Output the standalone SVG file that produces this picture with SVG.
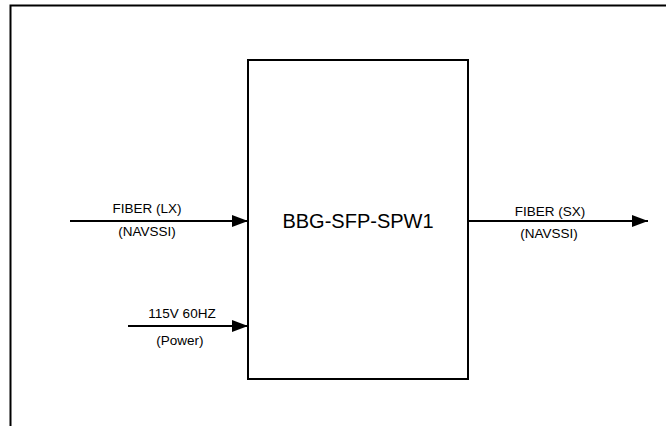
<svg xmlns="http://www.w3.org/2000/svg" width="666" height="426" viewBox="0 0 666 426">
<style>
.lbl{font-family:"Liberation Sans",Arial,sans-serif;font-size:13.5px;fill:#000;text-anchor:middle}
.big{font-family:"Liberation Sans",Arial,sans-serif;font-size:20px;fill:#000;text-anchor:middle}
.ln{stroke:#000;stroke-width:2;fill:none}
</style>
<defs>
<marker id="ah" markerUnits="userSpaceOnUse" markerWidth="16" markerHeight="12" refX="16" refY="6" orient="auto">
<path d="M0,0 L16,6 L0,12 Z" fill="#000"/>
</marker>
</defs>
<rect width="666" height="426" fill="#fff"/>
<g id="frame">
<path d="M10.5,426 V5.5 H666" class="ln"/>
</g>
<g id="device">
<rect x="248" y="60" width="220" height="319" fill="#fff" stroke="#000" stroke-width="2"/>
<text x="358" y="228" class="big">BBG-SFP-SPW1</text>
</g>
<g id="connectors">
<line x1="70" y1="221" x2="248" y2="221" class="ln" marker-end="url(#ah)"/>
<line x1="128" y1="326" x2="248" y2="326" class="ln" marker-end="url(#ah)"/>
<line x1="468" y1="221" x2="648" y2="221" class="ln" marker-end="url(#ah)"/>
</g>
<g id="labels">
<text x="147" y="213" class="lbl">FIBER (LX)</text>
<text x="147" y="236" class="lbl">(NAVSSI)</text>
<text x="182" y="318" class="lbl">115V 60HZ</text>
<text x="180" y="345" class="lbl">(Power)</text>
<text x="550" y="216" class="lbl">FIBER (SX)</text>
<text x="549" y="238" class="lbl">(NAVSSI)</text>
</g>
</svg>
